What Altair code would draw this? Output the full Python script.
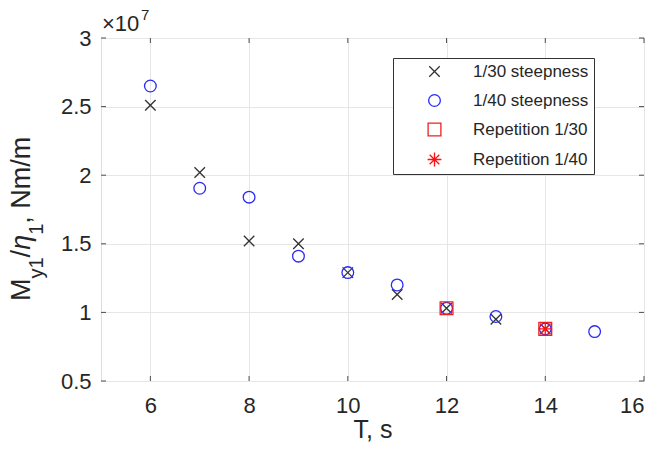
import altair as alt
import pandas as pd

# ---- data ----
SERIES = ["1/30 steepness", "1/40 steepness", "Repetition 1/30", "Repetition 1/40"]

T_30 = [6, 7, 8, 9, 10, 11, 12, 13, 14]
M_30 = [2.51e7, 2.02e7, 1.52e7, 1.50e7, 1.29e7, 1.13e7, 1.03e7, 0.95e7, 0.88e7]

T_40 = [6, 7, 8, 9, 10, 11, 12, 13, 14, 15]
M_40 = [2.65e7, 1.905e7, 1.84e7, 1.41e7, 1.29e7, 1.20e7, 1.03e7, 0.97e7, 0.88e7, 0.86e7]

T_REP30 = [12, 14]
M_REP30 = [1.03e7, 0.88e7]

T_REP40 = [14]
M_REP40 = [0.88e7]

X_TICKS = [6, 8, 10, 12, 14, 16]
Y_TICKS = [0.5e7, 1.0e7, 1.5e7, 2.0e7, 2.5e7, 3.0e7]

# ---- styling ----
FONT = "Liberation Sans"
TXT = "#262626"
FRAME = "#4d4d4d"
COLORS = ["#333333", "#2b2bf5", "#ee2020", "#ff1010"]
SHAPES = [
    "M-1,-1L1,1M-1,1L1,-1",
    "circle",
    "square",
    "M0,-1L0,1M-1,0L1,0M-0.7,-0.7L0.7,0.7M-0.7,0.7L0.7,-0.7",
]
SIZES = [110, 190, 130, 130]

W, H = 543, 343

rows = []
for t, m in zip(T_30, M_30):
    rows.append({"T": t, "M": m, "series": SERIES[0]})
for t, m in zip(T_40, M_40):
    rows.append({"T": t, "M": m, "series": SERIES[1]})
for t, m in zip(T_REP30, M_REP30):
    rows.append({"T": t, "M": m, "series": SERIES[2]})
for t, m in zip(T_REP40, M_REP40):
    rows.append({"T": t, "M": m, "series": SERIES[3]})
df = pd.DataFrame(rows)

xs = alt.Scale(domain=[5, 16], nice=False, zero=False)
ys = alt.Scale(domain=[0.5e7, 3e7], nice=False, zero=False)

xaxis = alt.Axis(
    values=X_TICKS, title="T, s", grid=True, ticks=False, domain=False,
    labelFontSize=22, labelPadding=14, titleFontSize=25, titlePadding=1,
    labelFont=FONT, titleFont=FONT, labelColor=TXT, titleColor=TXT,
    titleFontWeight="normal", gridColor="#e6e6e6")
yaxis = alt.Axis(
    values=Y_TICKS, title=None, grid=True, ticks=False, domain=False,
    labelExpr="format(datum.value / 10000000, '.2~f')",
    labelFontSize=22, labelPadding=10, labelFont=FONT, labelColor=TXT,
    gridColor="#e6e6e6")

leg = alt.Legend(
    title=None, orient="none", legendX=292, legendY=20, padding=5,
    strokeColor="#333333", fillColor="white",
    labelFont=FONT, labelFontSize=17, labelColor=TXT, labelLimit=400,
    rowPadding=11, symbolOffset=28, labelOffset=30, symbolStrokeWidth=1.3,
)

points = alt.Chart(df).mark_point(filled=False, strokeWidth=1.3, opacity=1).encode(
    x=alt.X("T:Q", scale=xs, axis=xaxis),
    y=alt.Y("M:Q", scale=ys, axis=yaxis),
    color=alt.Color("series:N", scale=alt.Scale(domain=SERIES, range=COLORS), legend=leg),
    shape=alt.Shape("series:N", scale=alt.Scale(domain=SERIES, range=SHAPES), legend=leg),
    size=alt.Size("series:N", scale=alt.Scale(domain=SERIES, range=SIZES), legend=leg),
)

xt = pd.DataFrame({"T": X_TICKS})
yt = pd.DataFrame({"M": Y_TICKS})
tick_b = alt.Chart(xt).mark_rule(color=FRAME, strokeWidth=1).encode(
    x=alt.X("T:Q", scale=xs, axis=xaxis), y=alt.value(H), y2=alt.value(H - 5))
tick_t = alt.Chart(xt).mark_rule(color=FRAME, strokeWidth=1).encode(
    x=alt.X("T:Q", scale=xs, axis=xaxis), y=alt.value(0), y2=alt.value(5))
tick_l = alt.Chart(yt).mark_rule(color=FRAME, strokeWidth=1).encode(
    y=alt.Y("M:Q", scale=ys, axis=yaxis), x=alt.value(0), x2=alt.value(5))
tick_r = alt.Chart(yt).mark_rule(color=FRAME, strokeWidth=1).encode(
    y=alt.Y("M:Q", scale=ys, axis=yaxis), x=alt.value(W), x2=alt.value(W - 5))

one = alt.Data(values=[{}])


def txt(text, x, y, size, angle=0, style="normal"):
    kw = dict(text=text, font=FONT, fontSize=size, color=TXT, align="left",
              baseline="alphabetic", fontStyle=style)
    if angle:
        kw["angle"] = angle
    return alt.Chart(one).mark_text(**kw).encode(x=alt.value(x), y=alt.value(y))


# y-axis title  M_{y1}/eta_1, Nm/m  (rotated, composed with subscripts)
MX, SX = -71, -58
ytitle = [
    txt("M", MX, 263, 27, 270),
    txt("y1", SX, 240.5, 20, 270),
    txt("/", MX, 219.4, 27, 270),
    txt("η", MX, 211.8, 27, 270, "italic"),
    txt("1", SX, 196.8, 20, 270),
    txt(", Nm/m", MX, 185.7, 27, 270),
]
# exponent label
expo = [
    txt("×10", 1, -7, 22),
    txt("7", 40, -18, 15),
]

chart = alt.layer(points, tick_b, tick_t, tick_l, tick_r, *ytitle, *expo).properties(
    width=W, height=H,
    autosize=alt.AutoSizeParams(type="none"),
    padding={"left": 93, "top": 30, "right": 7, "bottom": 68},
).configure_view(stroke=FRAME, strokeWidth=1).configure(background="white")

chart.save("out.html", embed_options={"renderer": "svg", "actions": False})
